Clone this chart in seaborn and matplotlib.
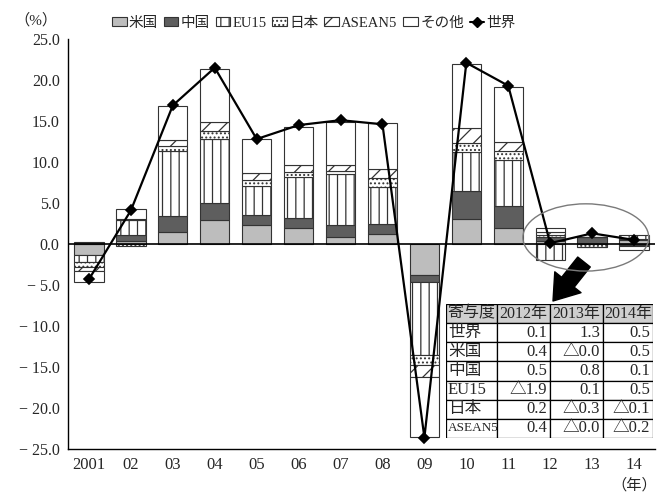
import numpy as np
import pandas as pd
import matplotlib
matplotlib.use("Agg")
import matplotlib.pyplot as plt
import seaborn as sns
from matplotlib.patches import Patch, Ellipse, Rectangle
from matplotlib.lines import Line2D

# Contribution to world growth by region (%)
years = ["2001", "02", "03", "04", "05", "06", "07", "08", "09", "10", "11", "12", "13", "14"]
us = [-1.3, 0.4, 1.5, 2.9, 2.3, 1.9, 0.9, 1.2, -3.8, 3.0, 2.0, 0.4, -0.04, 0.5]
china = [0.3, 0.7, 1.9, 2.1, 1.2, 1.3, 1.4, 1.2, -0.8, 3.5, 2.6, 0.5, 0.8, 0.1]
eu15 = [-0.9, 1.8, 8.0, 7.8, 3.6, 5.0, 6.2, 4.6, -8.9, 4.7, 5.6, -1.9, 0.1, 0.5]
japan = [-0.6, -0.3, 0.6, 1.0, 0.7, 0.6, 0.4, 1.0, -1.2, 1.1, 1.2, 0.2, -0.3, -0.1]
asean5 = [-0.5, 0.2, 0.7, 1.1, 0.8, 0.8, 0.7, 1.1, -1.5, 1.8, 1.1, 0.4, -0.04, -0.2]
others = [-1.3, 1.2, 4.1, 6.5, 4.2, 4.7, 5.3, 5.6, -7.3, 7.9, 6.6, 0.4, 0.0, -0.4]
world = [-4.3, 4.1, 16.9, 21.5, 12.8, 14.5, 15.1, 14.6, -23.6, 22.1, 19.3, 0.1, 1.3, 0.5]

series_names = ["米国", "中国", "EU15", "日本", "ASEAN5", "その他"]
series_values = [us, china, eu15, japan, asean5, others]
world_name = "世界"

yticks = [25, 20, 15, 10, 5, 0, -5, -10, -15, -20, -25]

# years shown in the inset table and the rows it lists
table_years = ["2012年", "2013年", "2014年"]
table_rows = ["世界", "米国", "中国", "EU15", "日本", "ASEAN5"]
table_header = "寄与度"

fills = {
    "米国": ("#bdbdbd", None),
    "中国": ("#5e5e5e", None),
    "EU15": ("white", "||"),
    "日本": ("white", "...."),
    "ASEAN5": ("white", "//"),
    "その他": ("white", None),
}
EDGE = "#333333"

sns.set_theme(style="white")
plt.rcParams["font.family"] = ["Liberation Serif", "Noto Sans CJK JP", "DejaVu Sans"]
plt.rcParams["hatch.linewidth"] = 0.9
plt.rcParams["axes.unicode_minus"] = True

W, H = 659, 496
fig = plt.figure(figsize=(W / 100, H / 100), dpi=100)
ax = fig.add_axes([68 / W, 1 - 449 / H, (655 - 68) / W, (449 - 39) / H])

# stack positives upward and negatives downward from zero
pos_base = np.zeros(len(years))
neg_base = np.zeros(len(years))
for name, vals in zip(series_names, series_values):
    v = np.asarray(vals, dtype=float)
    base = np.where(v >= 0, pos_base, neg_base)
    df = pd.DataFrame({"year": years, "value": v})
    fc, hatch = fills[name]
    sns.barplot(data=df, x="year", y="value", bottom=base, color=fc,
                saturation=1, edgecolor=EDGE, linewidth=0.8, hatch=hatch,
                width=0.7, errorbar=None, ax=ax, zorder=2)
    pos_base = np.where(v >= 0, pos_base + v, pos_base)
    neg_base = np.where(v < 0, neg_base + v, neg_base)

sns.pointplot(x=years, y=world, color="black", markers="D", markersize=5,
              linewidth=1.6, errorbar=None, ax=ax, zorder=5)

ax.axhline(0, color="black", lw=1.2, zorder=3)
ax.set_xlim(-0.5, len(years) - 0.5)
ax.set_ylim(-25, 25)
ax.set_xlabel("")
ax.set_ylabel("")

for s in ["top", "right"]:
    ax.spines[s].set_visible(False)
for s in ["left", "bottom"]:
    ax.spines[s].set_color("black")
    ax.spines[s].set_linewidth(1.0)

ax.set_yticks(yticks)
ax.set_yticklabels([(f"− {abs(t):.1f}" if t < 0 else f"{t:.1f}") for t in yticks], fontsize=11.5)
ax.tick_params(axis="y", direction="out", length=4, width=1, color="black", pad=2)
ax.set_xticks(range(len(years)))
ax.set_xticklabels(years, fontsize=12)
ax.set_xticks(np.arange(-0.5, len(years), 1.0), minor=True)
ax.tick_params(axis="x", which="major", length=0, pad=6)
ax.tick_params(axis="x", which="minor", direction="in", length=5, width=1, color="black")
ax.grid(False)

# highlight of the last three years
ax.add_patch(Ellipse((11.85, 0.8), 3.0, 8.2, fill=False, edgecolor="#7a7a7a",
                     lw=1.0, zorder=6, clip_on=False))
ax.annotate("", xy=(553, H - 301), xytext=(584, H - 262),
            xycoords="figure pixels", textcoords="figure pixels",
            arrowprops=dict(arrowstyle="simple,head_length=0.75,head_width=1.05,tail_width=0.5",
                            color="black", shrinkA=0, shrinkB=0, mutation_scale=23))

# inset table built from the series values
def fmt(v):
    return f"△{abs(v):.1f}" if v < 0 else f"{v:.1f}"

row_data = {"世界": world, "米国": us, "中国": china, "EU15": eu15,
            "日本": japan, "ASEAN5": asean5}
idx = [years.index(y[2:4]) for y in table_years]

tx0, ty0, tx1, ty1 = 446, 304, 653, 438
tab = fig.add_axes([tx0 / W, 1 - ty1 / H, (tx1 - tx0) / W, (ty1 - ty0) / H])
tab.set_xlim(0, tx1 - tx0)
tab.set_ylim(ty1 - ty0, 0)
tab.axis("off")
col_edges = [0, 51, 104, 157, tx1 - tx0]
nrows = len(table_rows) + 1
rh = (ty1 - ty0) / nrows
for r in range(nrows):
    for c in range(4):
        x0, x1 = col_edges[c], col_edges[c + 1]
        y0 = r * rh
        tab.add_patch(Rectangle((x0, y0), x1 - x0, rh,
                                facecolor="#cfcfcf" if r == 0 else "white",
                                edgecolor="black", lw=0.9))
        if r == 0:
            txt = table_header if c == 0 else table_years[c - 1]
            tab.text((x0 + x1) / 2, y0 + rh / 2, txt, ha="center", va="center", fontsize=11.5)
        elif c == 0:
            name = table_rows[r - 1]
            tab.text(x0 + 2, y0 + rh / 2, name, ha="left", va="center",
                     fontsize=9.5 if name == "ASEAN5" else 12)
        else:
            val = row_data[table_rows[r - 1]][idx[c - 1]]
            tab.text(x1 - 3, y0 + rh / 2, fmt(val), ha="right", va="center", fontsize=12)

# legend
handles = [Patch(facecolor=fills[n][0], edgecolor=EDGE, hatch=fills[n][1], lw=0.8, label=n)
           for n in series_names]
handles.append(Line2D([], [], color="black", marker="D", markersize=5, lw=1.5, label=world_name))
fig.legend(handles=handles, loc="center left", bbox_to_anchor=(112 / W, 1 - 23 / H),
           ncol=7, frameon=False, fontsize=10.5, handlelength=1.0, handleheight=0.6,
           handletextpad=0.15, columnspacing=0.4, borderpad=0, borderaxespad=0)

fig.text(36 / W, 1 - 20 / H, "（%）", ha="center", va="center", fontsize=11)
fig.text(634 / W, 1 - 485 / H, "（年）", ha="center", va="center", fontsize=11)

fig.savefig("out.png", dpi=100)
